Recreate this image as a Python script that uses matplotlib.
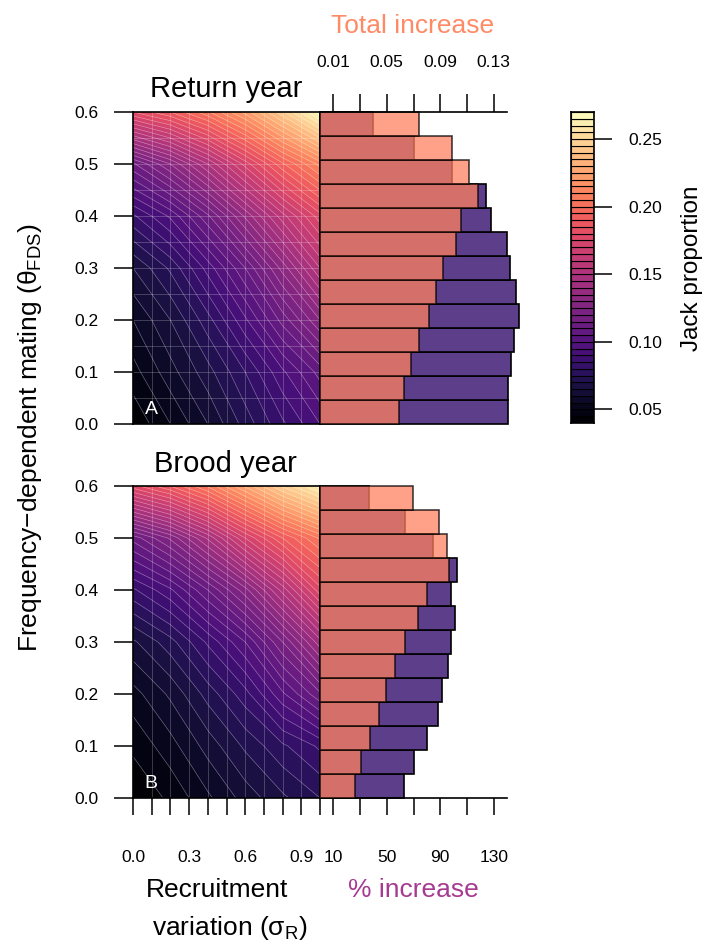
import numpy as np
import matplotlib
matplotlib.use("Agg")
import matplotlib.pyplot as plt
from matplotlib.colors import Normalize

plt.rcParams["font.family"] = ["Liberation Sans", "DejaVu Sans"]
plt.rcParams["mathtext.fontset"] = "custom"
plt.rcParams["mathtext.rm"] = "Liberation Sans"
plt.rcParams["mathtext.it"] = "Liberation Sans"
plt.rcParams["mathtext.bf"] = "Liberation Sans:bold"

# jack proportion on a (theta_FDS x sigma_R) grid
SIGMA_R = [0.0, 0.2, 0.4, 0.6, 0.8, 1.0]
THETA = [0.0, 0.1, 0.2, 0.3, 0.4, 0.5, 0.6]
JACK_RETURN = [
    [0.041, 0.050, 0.060, 0.072, 0.084, 0.095],
    [0.048, 0.058, 0.068, 0.080, 0.094, 0.107],
    [0.055, 0.065, 0.078, 0.094, 0.112, 0.130],
    [0.065, 0.076, 0.092, 0.110, 0.132, 0.155],
    [0.084, 0.096, 0.114, 0.136, 0.158, 0.178],
    [0.114, 0.130, 0.150, 0.172, 0.194, 0.212],
    [0.180, 0.190, 0.204, 0.222, 0.244, 0.268],
]
JACK_BROOD = [
    [0.041, 0.046, 0.054, 0.062, 0.069, 0.075],
    [0.046, 0.053, 0.062, 0.071, 0.079, 0.086],
    [0.053, 0.061, 0.072, 0.083, 0.099, 0.114],
    [0.064, 0.073, 0.086, 0.100, 0.120, 0.143],
    [0.084, 0.094, 0.110, 0.128, 0.152, 0.178],
    [0.112, 0.126, 0.146, 0.170, 0.190, 0.206],
    [0.178, 0.190, 0.206, 0.226, 0.246, 0.262],
]

# increase in jack proportion per theta_FDS row (0.00 ... 0.60)
THETA_BARS = [0.00, 0.05, 0.10, 0.15, 0.20, 0.25, 0.30,
              0.35, 0.40, 0.45, 0.50, 0.55, 0.60]
PCT_RETURN = [140.5, 140.5, 143.3, 145.5, 149.3, 147.0, 142.3,
              140.0, 128.0, 124.5, 98.7, 70.2, 39.5]
TOTAL_RETURN = [0.0593, 0.0628, 0.0678, 0.0738, 0.0818, 0.0870, 0.0923,
                0.1015, 0.1053, 0.1185, 0.1113, 0.0988, 0.0738]
PCT_BROOD = [63.0, 70.3, 79.8, 88.0, 91.0, 96.0, 98.0,
             101.3, 98.0, 102.3, 84.5, 63.5, 36.9]
TOTAL_BROOD = [0.0263, 0.0310, 0.0373, 0.0443, 0.0495, 0.0565, 0.0635,
               0.0733, 0.0803, 0.0968, 0.0948, 0.0888, 0.0693]

LEVELS = np.round(np.arange(0.04, 0.2701, 0.005), 3)
CBAR_TICKS = [0.05, 0.10, 0.15, 0.20, 0.25]
PCT_COLOR = "#5D3E8A"
TOTAL_COLOR = "#FF815F"
PCT_LABEL_COLOR = "#A63A90"
TOTAL_LABEL_COLOR = "#FF8A66"

W, H = 707, 942
CMAP = plt.cm.magma
NORM = Normalize(LEVELS[0], LEVELS[-1])
TICK_FS = 12.5
LW = 1.2


def box(l, t, r, b):
    """pixel box -> figure fraction rect"""
    return [l / W, 1 - b / H, (r - l) / W, (b - t) / H]


def fx(x):
    return x / W


def fy(y):
    return 1 - y / H


def draw_heat(ax, z, letter, hgrid, xticks):
    X, Y = np.meshgrid(SIGMA_R, THETA)
    z = np.asarray(z)
    ax.contourf(X, Y, z, levels=LEVELS, cmap=CMAP, norm=NORM)
    ax.contour(X, Y, z, levels=LEVELS, colors="white", linewidths=0.4, alpha=0.45)
    ax.vlines(np.arange(0.1, 1.0, 0.1), 0, 0.6, colors="white", lw=0.6, alpha=0.25)
    if hgrid:
        ax.hlines(np.arange(0.05, 0.6, 0.05), 0, 1, colors="white", lw=0.6, alpha=0.25)
    ax.set_xlim(0, 1)
    ax.set_ylim(0, 0.6)
    for s in ax.spines.values():
        s.set_linewidth(LW)
    ax.set_yticks(np.arange(0, 0.61, 0.1))
    ax.set_yticklabels([f"{v:.1f}" for v in np.arange(0, 0.61, 0.1)])
    ax.tick_params(axis="y", direction="out", length=14, width=1.1, pad=11,
                   labelsize=TICK_FS)
    if xticks:
        ax.set_xticks(np.arange(0, 1.01, 0.1))
        ax.set_xticklabels(["0.0", "", "", "0.3", "", "", "0.6", "", "", "0.9", ""])
        ax.tick_params(axis="x", direction="out", length=12.5, width=1.1, pad=25,
                       labelsize=TICK_FS)
    else:
        ax.set_xticks([])
    ax.text((151 - 133) / 187, (424 - 409) / 312, letter, color="white",
            fontsize=14, ha="center", va="center", transform=ax.transAxes)


def draw_bars(ax, pct, total, top_axis, bottom_axis):
    ax.barh(THETA_BARS, pct, height=0.05, color=PCT_COLOR, edgecolor="black",
            linewidth=LW, clip_on=False)
    ax.set_xlim(0, 140)
    ax.set_ylim(-0.025, 0.625)
    ax.set_yticks([])
    for s in ax.spines.values():
        s.set_visible(False)
    if bottom_axis:
        ax.spines["bottom"].set_visible(True)
        ax.spines["bottom"].set_linewidth(LW)
        ax.set_xticks(np.arange(10, 131, 20))
        ax.set_xticklabels(["10", "", "50", "", "90", "", "130"])
        ax.tick_params(axis="x", direction="out", length=12.5, width=1.1, pad=25,
                       labelsize=TICK_FS)
    else:
        ax.set_xticks([])

    top = ax.twiny()
    top.barh(THETA_BARS, total, height=0.05, color=TOTAL_COLOR, alpha=0.74,
             edgecolor="black", linewidth=LW, clip_on=False)
    top.set_xlim(0, 0.14)
    top.set_ylim(-0.025, 0.625)
    for s in top.spines.values():
        s.set_visible(False)
    if top_axis:
        top.spines["top"].set_visible(True)
        top.spines["top"].set_linewidth(LW)
        top.set_xticks(np.arange(0.01, 0.131, 0.02))
        top.set_xticklabels(["0.01", "", "0.05", "", "0.09", "", "0.13"])
        top.tick_params(axis="x", direction="out", length=13, width=1.1, pad=17,
                        labelsize=TICK_FS)
    else:
        top.set_xticks([])


fig = plt.figure(figsize=(W / 100, H / 100), dpi=100)

ax_ha = fig.add_axes(box(133, 112, 320, 424))
ax_ba = fig.add_axes(box(320, 112, 507, 424))
ax_hb = fig.add_axes(box(133, 486, 320, 798))
ax_bb = fig.add_axes(box(320, 486, 507, 798))
ax_cb = fig.add_axes(box(571, 112, 594, 423))

draw_heat(ax_ha, JACK_RETURN, "A", hgrid=True, xticks=False)
draw_heat(ax_hb, JACK_BROOD, "B", hgrid=False, xticks=True)
draw_bars(ax_ba, PCT_RETURN, TOTAL_RETURN, top_axis=True, bottom_axis=False)
draw_bars(ax_bb, PCT_BROOD, TOTAL_BROOD, top_axis=False, bottom_axis=True)

# stepped colour key, one box per contour level
mids = 0.5 * (LEVELS[1:] + LEVELS[:-1])
ax_cb.bar(0.5, np.diff(LEVELS), bottom=LEVELS[:-1], width=1.0,
          color=CMAP(NORM(mids)), edgecolor="black", linewidth=0.8)
ax_cb.set_xlim(0, 1)
ax_cb.set_ylim(LEVELS[0], LEVELS[-1])
ax_cb.set_xticks([])
ax_cb.yaxis.tick_right()
ax_cb.set_yticks(CBAR_TICKS)
ax_cb.set_yticklabels([f"{v:.2f}" for v in CBAR_TICKS])
ax_cb.tick_params(axis="y", direction="out", length=13, width=1.1, pad=12,
                  labelsize=TICK_FS)
for s in ax_cb.spines.values():
    s.set_linewidth(LW)

fig.text(fx(226), fy(97), "Return year", fontsize=21, ha="center", va="baseline")
fig.text(fx(225), fy(472), "Brood year", fontsize=21, ha="center", va="baseline")
fig.text(fx(413), fy(33), "Total increase", fontsize=19, ha="center",
         va="baseline", color=TOTAL_LABEL_COLOR)
fig.text(fx(413), fy(897), "% increase", fontsize=19, ha="center",
         va="baseline", color=PCT_LABEL_COLOR)
fig.text(fx(217), fy(897), "Recruitment", fontsize=19, ha="center", va="baseline")
fig.text(fx(230), fy(935), r"variation ($\sigma_{\rm R}$)", fontsize=19,
         ha="center", va="baseline")
fig.text(fx(30), fy(438), "Frequency\u2212dependent mating ($\\theta_{\\rm FDS}$)",
         fontsize=19, rotation=90, ha="center", va="center")
fig.text(fx(692), fy(268), "Jack proportion", fontsize=17.5, rotation=90,
         ha="center", va="center")

fig.savefig("out.png", dpi=100)
